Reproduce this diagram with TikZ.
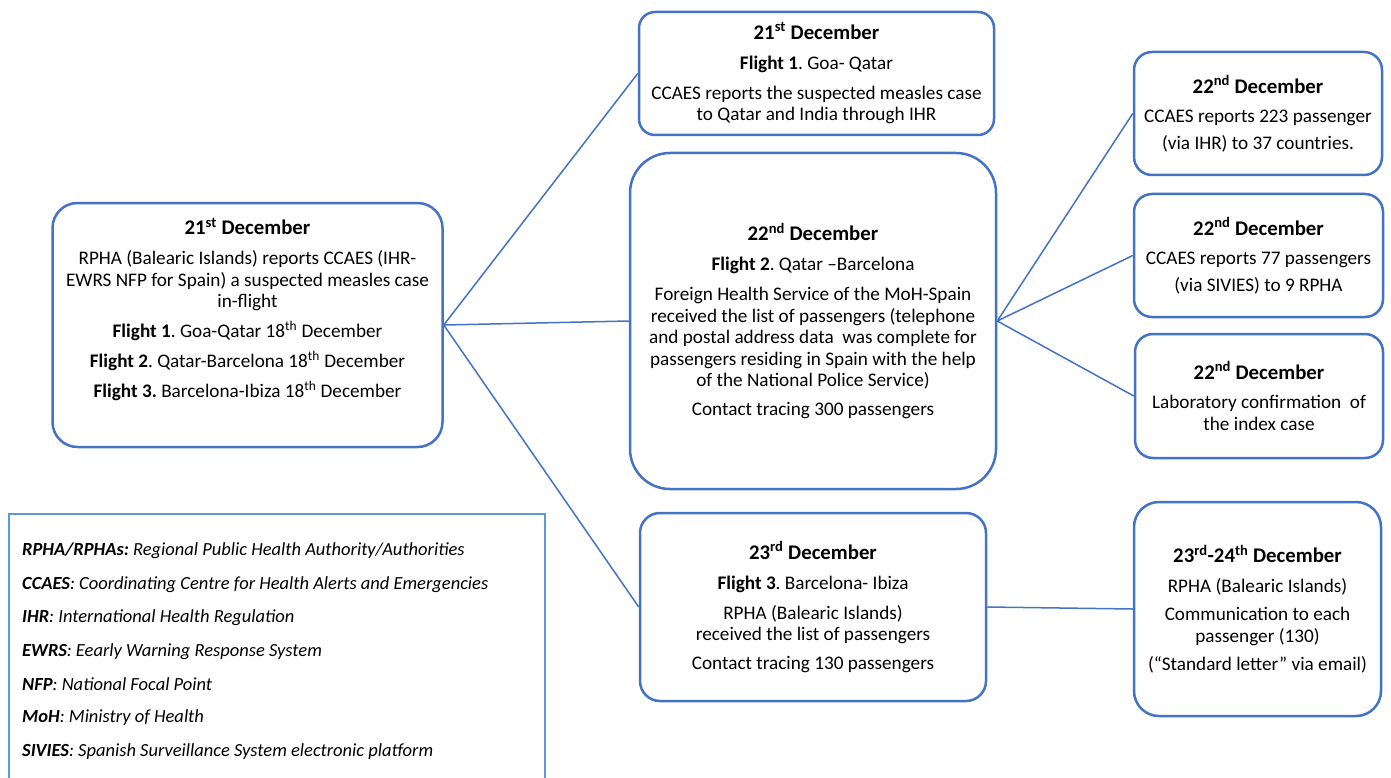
\documentclass[tikz,border=0pt]{standalone}
\usepackage{fontspec}
\setmainfont{Carlito}
\frenchspacing
\definecolor{boxblue}{HTML}{4472C4}
\definecolor{legblue}{HTML}{5B9BD5}
\newcommand{\dtitle}[1]{{\fontsize{20.8}{21.5}\selectfont\bfseries #1}}

\begin{document}
\begin{tikzpicture}[x=1pt,y=-1pt,
  datebox/.style={draw=boxblue, line width=2.5pt, rounded corners=#1, align=center,
    inner sep=0pt, font=\fontsize{19.2}{21.5}\selectfont},
  datebox/.default=20pt,
  link/.style={draw=boxblue, line width=1.5pt},
  legitem/.style={anchor=west, inner sep=0pt, font=\fontsize{18.5}{21}\selectfont\itshape}]
\clip (0,0) rectangle (1391,778);
\fill[white] (0,0) rectangle (1391,778);

% first report
\node[datebox=25pt, minimum width=390pt, minimum height=244pt] (rep) at (247.5,325)
  {\dtitle{21\textsuperscript{st} December}\\[8.5pt]
   RPHA (Balearic Islands) reports CCAES (IHR-\\
   EWRS NFP for Spain) a suspected measles case\\
   in-flight\\[8.5pt]
   \textbf{Flight 1}. Goa-Qatar 18\textsuperscript{th} December\\[8.5pt]
   \textbf{Flight 2}. Qatar-Barcelona 18\textsuperscript{th} December\\[8.5pt]
   \textbf{Flight 3.} Barcelona-Ibiza 18\textsuperscript{th} December\\[13pt]\mbox{}};

% the three flights
\node[datebox=16pt, minimum width=355pt, minimum height=123pt] (fone) at (816.5,73.5)
  {\dtitle{21\textsuperscript{st} December}\\[8.5pt]
   \textbf{Flight 1}. Goa- Qatar\\[8.5pt]
   CCAES reports the suspected measles case\\
   to Qatar and India through IHR};
\node[datebox=40pt, minimum width=366pt, minimum height=336pt] (ftwo) at (813,321)
  {\dtitle{22\textsuperscript{nd} December}\\[8.5pt]
   \textbf{Flight 2}. Qatar –Barcelona\\[8.5pt]
   Foreign Health Service of the MoH-Spain\\
   received the list of passengers (telephone\\
   and postal address data\ \ was complete for\\
   passengers residing in Spain with the help\\
   of the National Police Service)\\[7pt]
   Contact tracing 300 passengers};
\node[datebox=20pt, minimum width=346pt, minimum height=188pt] (fthree) at (813,607)
  {\dtitle{23\textsuperscript{rd} December}\\[8.5pt]
   \textbf{Flight 3}. Barcelona- Ibiza\\[8.5pt]
   RPHA (Balearic Islands)\\
   received the list of passengers\\[7pt]
   Contact tracing 130 passengers};

% follow-up
\node[datebox=18pt, minimum width=248pt, minimum height=123pt] (ihr) at (1258,113.5)
  {\dtitle{22\textsuperscript{nd} December}\\[8pt]
   CCAES reports 223 passenger\\[5pt]
   (via IHR) to 37 countries.};
\node[datebox=18pt, minimum width=249pt, minimum height=123pt] (sivies) at (1258.5,255.5)
  {\dtitle{22\textsuperscript{nd} December}\\[8pt]
   CCAES reports 77 passengers\\[5pt]
   (via SIVIES) to 9 RPHA};
\node[datebox=18pt, minimum width=248pt, minimum height=124pt] (lab) at (1259,396)
  {\dtitle{22\textsuperscript{nd} December}\\[8pt]
   Laboratory confirmation\ \ of\\
   the index case};
\node[datebox=25pt, minimum width=247pt, minimum height=214pt] (letter) at (1257.5,609)
  {\dtitle{23\textsuperscript{rd}-24\textsuperscript{th} December}\\[8pt]
   RPHA (Balearic Islands)\\[7pt]
   Communication to each\\
   passenger (130)\\[7pt]
   (“Standard letter” via email)};

\draw[link] (rep.east) -- (fone.west);
\draw[link] (rep.east) -- (ftwo.west);
\draw[link] (rep.east) -- (fthree.west);
\draw[link] (ftwo.east) -- (ihr.west);
\draw[link] (ftwo.east) -- (sivies.west);
\draw[link] (ftwo.east) -- (lab.west);
\draw[link] (fthree.east) -- (letter.west);

% abbreviations
\draw[legblue, line width=1.5pt] (9,514) rectangle (545,800);
\foreach \abbr/\txt [count=\i] in {
  {RPHA/RPHAs:}/{ Regional Public Health Authority/Authorities},
  CCAES/{: Coordinating Centre for Health Alerts and Emergencies},
  IHR/{: International Health Regulation},
  EWRS/{: Eearly Warning Response System},
  NFP/{: National Focal Point},
  MoH/{: Ministry of Health},
  SIVIES/{: Spanish Surveillance System electronic platform}}
  \node[legitem] (abbr\i) at (22,{551+33.4*(\i-1)}) {\textbf{\abbr}\txt};
\end{tikzpicture}
\end{document}
